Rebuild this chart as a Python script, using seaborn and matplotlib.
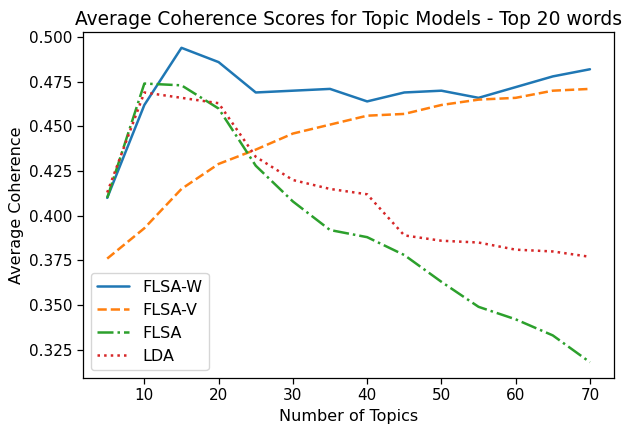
# --- Importing the requirements --- #
import numpy as np
import pandas as pd
import matplotlib
matplotlib.use("Agg")
import matplotlib.pyplot as plt
import seaborn as sns

# --- DATA --- #
topics = [5, 10, 15, 20, 25, 30, 35, 40, 45, 50, 55, 60, 65, 70]
flsa_w = [0.410, 0.462, 0.494, 0.486, 0.469, 0.470, 0.471, 0.464, 0.469, 0.470, 0.466, 0.472, 0.478, 0.482]
flsa_v = [0.376, 0.393, 0.415, 0.429, 0.437, 0.446, 0.451, 0.456, 0.457, 0.462, 0.465, 0.466, 0.470, 0.471]
flsa = [0.410, 0.474, 0.473, 0.460, 0.428, 0.408, 0.392, 0.388, 0.378, 0.363, 0.349, 0.342, 0.333, 0.318]
lda = [0.413, 0.469, 0.466, 0.463, 0.433, 0.420, 0.415, 0.412, 0.389, 0.386, 0.385, 0.381, 0.380, 0.377]
labels = ["FLSA-W", "FLSA-V", "FLSA", "LDA"]
line_styles = ["-", "--", "-.", ":"]

# ========================================================================= #


def make_plot():
    sns.set_style("ticks")
    plt.rcParams["font.family"] = ["DejaVu Sans"]
    plt.rcParams["text.color"] = "black"
    plt.rcParams["axes.labelcolor"] = "black"
    plt.rcParams["xtick.color"] = "black"
    plt.rcParams["ytick.color"] = "black"

    df = pd.DataFrame({"topics": topics, "FLSA-W": flsa_w, "FLSA-V": flsa_v,
                       "FLSA": flsa, "LDA": lda})
    colors = sns.color_palette("tab10", 4)

    fig, ax = plt.subplots(figsize=(6.39, 4.28), dpi=100)
    fig.subplots_adjust(left=0.130, right=0.961, top=0.925, bottom=0.117)

    # --- ONE LINE PER MODEL --- #
    for name, ls, c in zip(labels, line_styles, colors):
        sns.lineplot(data=df, x="topics", y=name, ax=ax, color=c,
                     linestyle=ls, linewidth=1.8, label=name)

    ax.set_title("Average Coherence Scores for Topic Models - Top 20 words", fontsize=13.4, pad=5)
    ax.set_xlabel("Number of Topics", fontsize=11.5)
    ax.set_ylabel("Average Coherence", fontsize=11.5)
    ax.set_xticks([10, 20, 30, 40, 50, 60, 70])
    ax.set_yticks(np.arange(0.325, 0.501, 0.025))
    ax.yaxis.set_major_formatter(matplotlib.ticker.FormatStrFormatter("%.3f"))
    ax.tick_params(labelsize=11, length=4, width=0.9)
    for sp in ax.spines.values():
        sp.set_linewidth(0.9)
        sp.set_color("black")
    ax.legend(loc="lower left", fontsize=11.5, frameon=True)

    fig.savefig("out.png", dpi=100)


if __name__ == "__main__":
    make_plot()
